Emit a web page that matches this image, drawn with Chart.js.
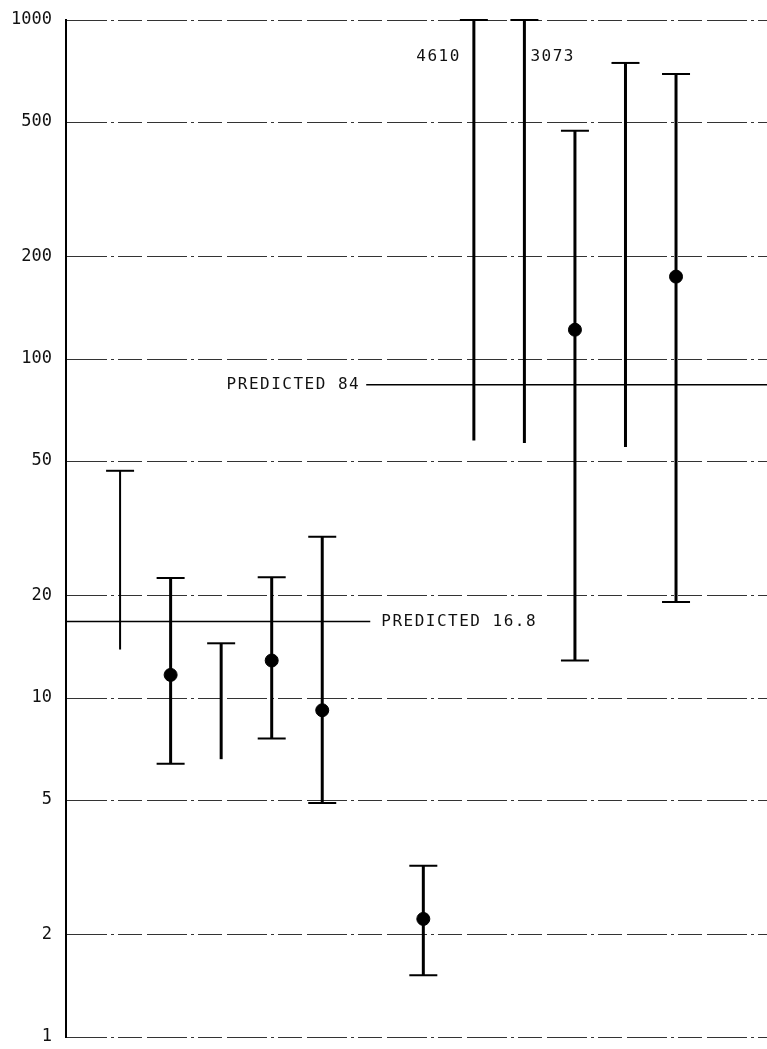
<!DOCTYPE html>
<html>
<head>
<meta charset="utf-8">
<script src="https://cdn.jsdelivr.net/npm/chart.js@4"></script>
<style>
  html, body { margin: 0; padding: 0; background: #fff; }
</style>
</head>
<body>
<canvas id="myChart" width="767" height="1049"></canvas>
<script>
// x slot of each measurement (slot 6 is empty)
const positions = [1, 2, 3, 4, 5, 7, 8, 9, 10, 11, 12]
const lowValues = [13.9, 6.4, 6.6, 7.6, 4.9, 1.52, 57.5, 56.5, 12.9, 55, 19.2]
const highValues = [46.8, 22.6, 14.5, 22.7, 29.9, 3.2, 4610, 3073, 471, 747, 693]
const meanValues = [null, 11.7, null, 12.9, 9.2, 2.23, null, null, 122, null, 175]
const hasLowerCap = [false, true, false, true, true, true, false, false, true, false, true]
const yTicks = [1, 2, 5, 10, 20, 50, 100, 200, 500, 1000]
const predicted = [84, 16.8]

const FONT = "'DejaVu Sans Mono', monospace"

var meanPoints = []
for (var i = 0; i < positions.length; i++) {
  if (meanValues[i] !== null) meanPoints.push({x: positions[i], y: meanValues[i]})
}

// vertical range bars, drawn under the mean points
const errorBars = {
  id: 'errorBars',
  beforeDatasetsDraw(chart) {
    const ctx = chart.ctx
    const xs = chart.scales.x, ys = chart.scales.y
    const area = chart.chartArea
    ctx.save()
    ctx.strokeStyle = '#000'
    for (var i = 0; i < positions.length; i++) {
      var x = xs.getPixelForValue(positions[i])
      var top = Math.max(ys.getPixelForValue(Math.min(highValues[i], ys.max)), area.top)
      var bot = ys.getPixelForValue(lowValues[i])
      ctx.lineWidth = i === 0 ? 2 : 3
      ctx.beginPath()
      ctx.moveTo(x, top)
      ctx.lineTo(x, bot)
      ctx.stroke()
      ctx.lineWidth = 2
      ctx.beginPath()
      ctx.moveTo(x - 14, top)
      ctx.lineTo(x + 14, top)
      if (hasLowerCap[i]) {
        ctx.moveTo(x - 14, bot)
        ctx.lineTo(x + 14, bot)
      }
      ctx.stroke()
    }
    ctx.restore()
  },
  afterDraw(chart) {
    const ctx = chart.ctx
    const xs = chart.scales.x, ys = chart.scales.y
    ctx.save()
    ctx.fillStyle = '#111'
    ctx.font = '16px ' + FONT
    ctx.letterSpacing = '1.5px'
    ctx.textBaseline = 'middle'
    // off-scale upper values
    ctx.textAlign = 'right'
    ctx.fillText(String(highValues[6]), xs.getPixelForValue(positions[6]) - 13, ys.getPixelForValue(780))
    ctx.textAlign = 'left'
    ctx.fillText(String(highValues[7]), xs.getPixelForValue(positions[7]) + 6, ys.getPixelForValue(780))
    // predicted labels
    ctx.textAlign = 'right'
    ctx.fillText('PREDICTED ' + predicted[0], xs.getPixelForValue(5.87) - 6, ys.getPixelForValue(predicted[0]))
    ctx.textAlign = 'left'
    ctx.fillText('PREDICTED ' + predicted[1], xs.getPixelForValue(5.95) + 11, ys.getPixelForValue(predicted[1]))
    ctx.restore()
  }
}

var ctx = document.getElementById('myChart').getContext('2d')
var chart = new Chart(ctx, {
  type: 'scatter',
  data: {
    datasets: [
      {
        data: meanPoints,
        backgroundColor: '#000',
        borderColor: '#000',
        pointRadius: 6.5,
        pointHoverRadius: 6.5
      },
      {
        type: 'line',
        data: [{x: 5.87, y: predicted[0]}, {x: 13.8, y: predicted[0]}],
        borderColor: '#000',
        borderWidth: 1.5,
        pointRadius: 0
      },
      {
        type: 'line',
        data: [{x: -0.07, y: predicted[1]}, {x: 5.95, y: predicted[1]}],
        borderColor: '#000',
        borderWidth: 1.5,
        pointRadius: 0
      }
    ]
  },
  options: {
    responsive: false,
    animation: false,
    layout: { autoPadding: false, padding: { top: 20, bottom: 12, left: 0, right: 0 } },
    plugins: { legend: { display: false }, tooltip: { enabled: false } },
    scales: {
      x: { type: 'linear', min: -0.07, max: 13.8, display: false },
      y: {
        type: 'logarithmic',
        min: 1,
        max: 1000,
        afterBuildTicks(scale) {
          scale.ticks = yTicks.map(v => ({value: v}))
        },
        afterFit(scale) {
          scale.width = 66
          scale.paddingTop = 0
          scale.paddingBottom = 0
        },
        ticks: {
          color: '#111',
          padding: 14,
          font: { family: FONT, size: 17 },
          callback: v => String(v)
        },
        grid: { color: '#333', lineWidth: 1, drawTicks: false },
        border: { display: true, color: '#000', width: 2, dash: [40, 4, 3, 4, 24, 5] }
      }
    }
  },
  plugins: [errorBars]
})
</script>
</body>
</html>
